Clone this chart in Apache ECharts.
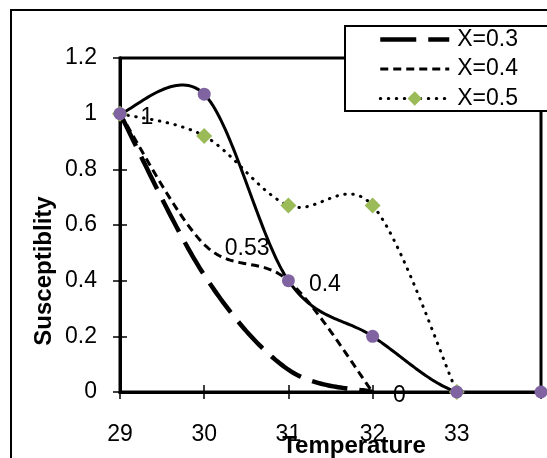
<!DOCTYPE html>
<html>
<head>
<meta charset="utf-8">
<script src="https://cdn.jsdelivr.net/npm/echarts@6/dist/echarts.min.js"></script>
<style>
  html, body { margin: 0; padding: 0; background: #fff; }
  #chart { width: 547px; height: 458px; }
</style>
</head>
<body>
<div id="chart"></div>
<script>
// Temperature steps on the x axis
const temperatures = [29, 30, 31, 32, 33, 34];
// Susceptibility readings for each composition
const suscX03 = [1, 0.42, 0.08, 0];
const suscX04 = [1, 0.53, 0.4, 0];
const suscX05 = [1, 0.92, 0.67, 0.67, 0];
const suscRef = [1, 1.07, 0.4, 0.2, 0, 0];
const yTicks = [0, 0.2, 0.4, 0.6, 0.8, 1, 1.2];

const pairs = (vals) => vals.map((v, i) => [temperatures[i], v]);
const FONT = '"Liberation Sans", Arial, sans-serif';

// Smooth curve through pixel points (Catmull-Rom style cubic segments),
// sampled into a polyline so dash patterns run continuously.
function smoothPath(pts) {
  const out = [pts[0]];
  const n = pts.length;
  for (let i = 0; i < n - 1; i++) {
    const p0 = pts[Math.max(i - 1, 0)];
    const p1 = pts[i];
    const p2 = pts[i + 1];
    const p3 = pts[Math.min(i + 2, n - 1)];
    const c1 = [p1[0] + (p2[0] - p0[0]) / 6, p1[1] + (p2[1] - p0[1]) / 6];
    const c2 = [p2[0] - (p3[0] - p1[0]) / 6, p2[1] - (p3[1] - p1[1]) / 6];
    const steps = 40;
    for (let s = 1; s <= steps; s++) {
      const t = s / steps, u = 1 - t;
      const a = u * u * u, b = 3 * u * u * t, c = 3 * u * t * t, d = t * t * t;
      out.push([
        a * p1[0] + b * c1[0] + c * c2[0] + d * p2[0],
        a * p1[1] + b * c1[1] + c * c2[1] + d * p2[1]
      ]);
    }
  }
  return out;
}

function curveSeries(vals, lineStyle) {
  return {
    type: 'custom', silent: true, z: 1, clip: true,
    data: pairs(vals),
    renderItem: (params, api) => {
      if (params.dataIndex !== 0) return null;
      const pts = vals.map((v, i) => api.coord([temperatures[i], v]));
      return {
        type: 'polyline',
        shape: { points: smoothPath(pts) },
        style: Object.assign({ fill: null, stroke: '#000', lineJoin: 'round' }, lineStyle)
      };
    }
  };
}

const chart = echarts.init(document.getElementById('chart'), null, { renderer: 'canvas' });

const baseX = {
  type: 'value', min: 29, max: 34, interval: 1, position: 'bottom',
  axisLine: { onZero: false, lineStyle: { color: '#000', width: 3 } },
  splitLine: { show: false }
};
const baseY = {
  type: 'value', min: 0, max: 1.2, interval: 0.2, position: 'left',
  axisLine: { onZero: false, lineStyle: { color: '#000', width: 3 } },
  splitLine: { show: false }
};

const hiddenLine = { opacity: 0, width: 0 };

chart.setOption({
  animation: false,
  backgroundColor: '#fff',
  textStyle: { fontFamily: FONT },
  grid: {
    left: 120, right: 6, top: 58, bottom: 66,
    show: true, borderColor: '#000', borderWidth: 3, backgroundColor: 'transparent'
  },
  legend: {
    data: [
      { name: 'X=0.3', itemStyle: { opacity: 0 },
        lineStyle: { color: '#000', width: 4.5, type: [36, 12], opacity: 1, cap: 'butt' } },
      { name: 'X=0.4', itemStyle: { opacity: 0 },
        lineStyle: { color: '#000', width: 3, type: [8, 5], opacity: 1, cap: 'butt' } },
      { name: 'X=0.5', itemStyle: { color: '#9BBB59', opacity: 1 },
        lineStyle: { color: '#000', width: 3, type: [0.5, 7.5], opacity: 1, cap: 'round' } }
    ],
    orient: 'vertical',
    left: 345, top: 26,
    itemWidth: 69, itemHeight: 18, itemGap: 6.5,
    padding: [2, 120, 1, 33],
    backgroundColor: '#fff', borderColor: '#000', borderWidth: 2,
    textStyle: { fontSize: 23, color: '#000', fontFamily: FONT, padding: [0, 0, 0, 3] }
  },
  xAxis: [
    Object.assign({}, baseX, {
      axisTick: { show: true, length: 7, lineStyle: { color: '#000', width: 1.5 } },
      axisLabel: {
        margin: 31, fontSize: 23, color: '#000', fontFamily: FONT,
        formatter: (v) => (v === 34 ? '' : String(v))
      }
    }),
    Object.assign({}, baseX, {
      axisTick: { show: true, inside: true, length: 7, lineStyle: { color: '#000', width: 1.5 } },
      axisLabel: { show: false }
    })
  ],
  yAxis: [
    Object.assign({}, baseY, {
      axisTick: { show: true, length: 7, lineStyle: { color: '#000', width: 1.5 } },
      axisLabel: {
        margin: 23, fontSize: 23, color: '#000', fontFamily: FONT,
        formatter: (v) => {
          const t = yTicks.find((k) => Math.abs(k - v) < 1e-9);
          return t === undefined ? '' : String(t);
        }
      }
    }),
    Object.assign({}, baseY, {
      axisTick: { show: true, inside: true, length: 7, lineStyle: { color: '#000', width: 1.5 } },
      axisLabel: { show: false }
    })
  ],
  series: [
    // drawn curves
    curveSeries(suscX03, { lineWidth: 4.5, lineDash: [36, 12], lineCap: 'butt' }),
    curveSeries(suscX04, { lineWidth: 3, lineDash: [8, 5], lineCap: 'butt' }),
    curveSeries(suscX05, { lineWidth: 3, lineDash: [0.5, 7.5], lineCap: 'round' }),
    curveSeries(suscRef, { lineWidth: 3 }),
    // markers, labels and legend entries
    {
      name: 'X=0.3', type: 'line',
      data: pairs(suscX03),
      symbol: 'none',
      lineStyle: hiddenLine,
      itemStyle: { color: '#000' },
      z: 2
    },
    {
      name: 'X=0.4', type: 'line',
      data: pairs(suscX04),
      symbol: 'circle', symbolSize: 1,
      lineStyle: hiddenLine,
      itemStyle: { color: 'rgba(0,0,0,0)' },
      label: {
        show: true, position: 'right', distance: 20, offset: [0, 4],
        fontSize: 23, color: '#000', fontFamily: FONT
      },
      z: 2
    },
    {
      name: 'X=0.5', type: 'line',
      data: pairs(suscX05),
      symbol: 'diamond', symbolSize: 16,
      lineStyle: hiddenLine,
      itemStyle: { color: '#9BBB59' },
      z: 3
    },
    {
      name: 'S4', type: 'line',
      data: pairs(suscRef),
      symbol: 'circle', symbolSize: 13,
      lineStyle: hiddenLine,
      itemStyle: { color: '#8064A2' },
      z: 4
    }
  ],
  graphic: [
    {
      type: 'rect', z: -1, silent: true,
      shape: { x: 11, y: 10, width: 600, height: 600 },
      style: { fill: 'none', stroke: '#000', lineWidth: 2 }
    },
    {
      type: 'text', x: 44, y: 271, rotation: Math.PI / 2, silent: true,
      style: {
        text: 'Susceptiblity', font: 'bold 24px ' + FONT, fill: '#000',
        align: 'center', verticalAlign: 'middle'
      }
    },
    {
      type: 'text', x: 354, y: 446, silent: true, z: 10,
      style: {
        text: 'Temperature', font: 'bold 24px ' + FONT, fill: '#000',
        align: 'center', verticalAlign: 'middle'
      }
    }
  ]
});
</script>
</body>
</html>
